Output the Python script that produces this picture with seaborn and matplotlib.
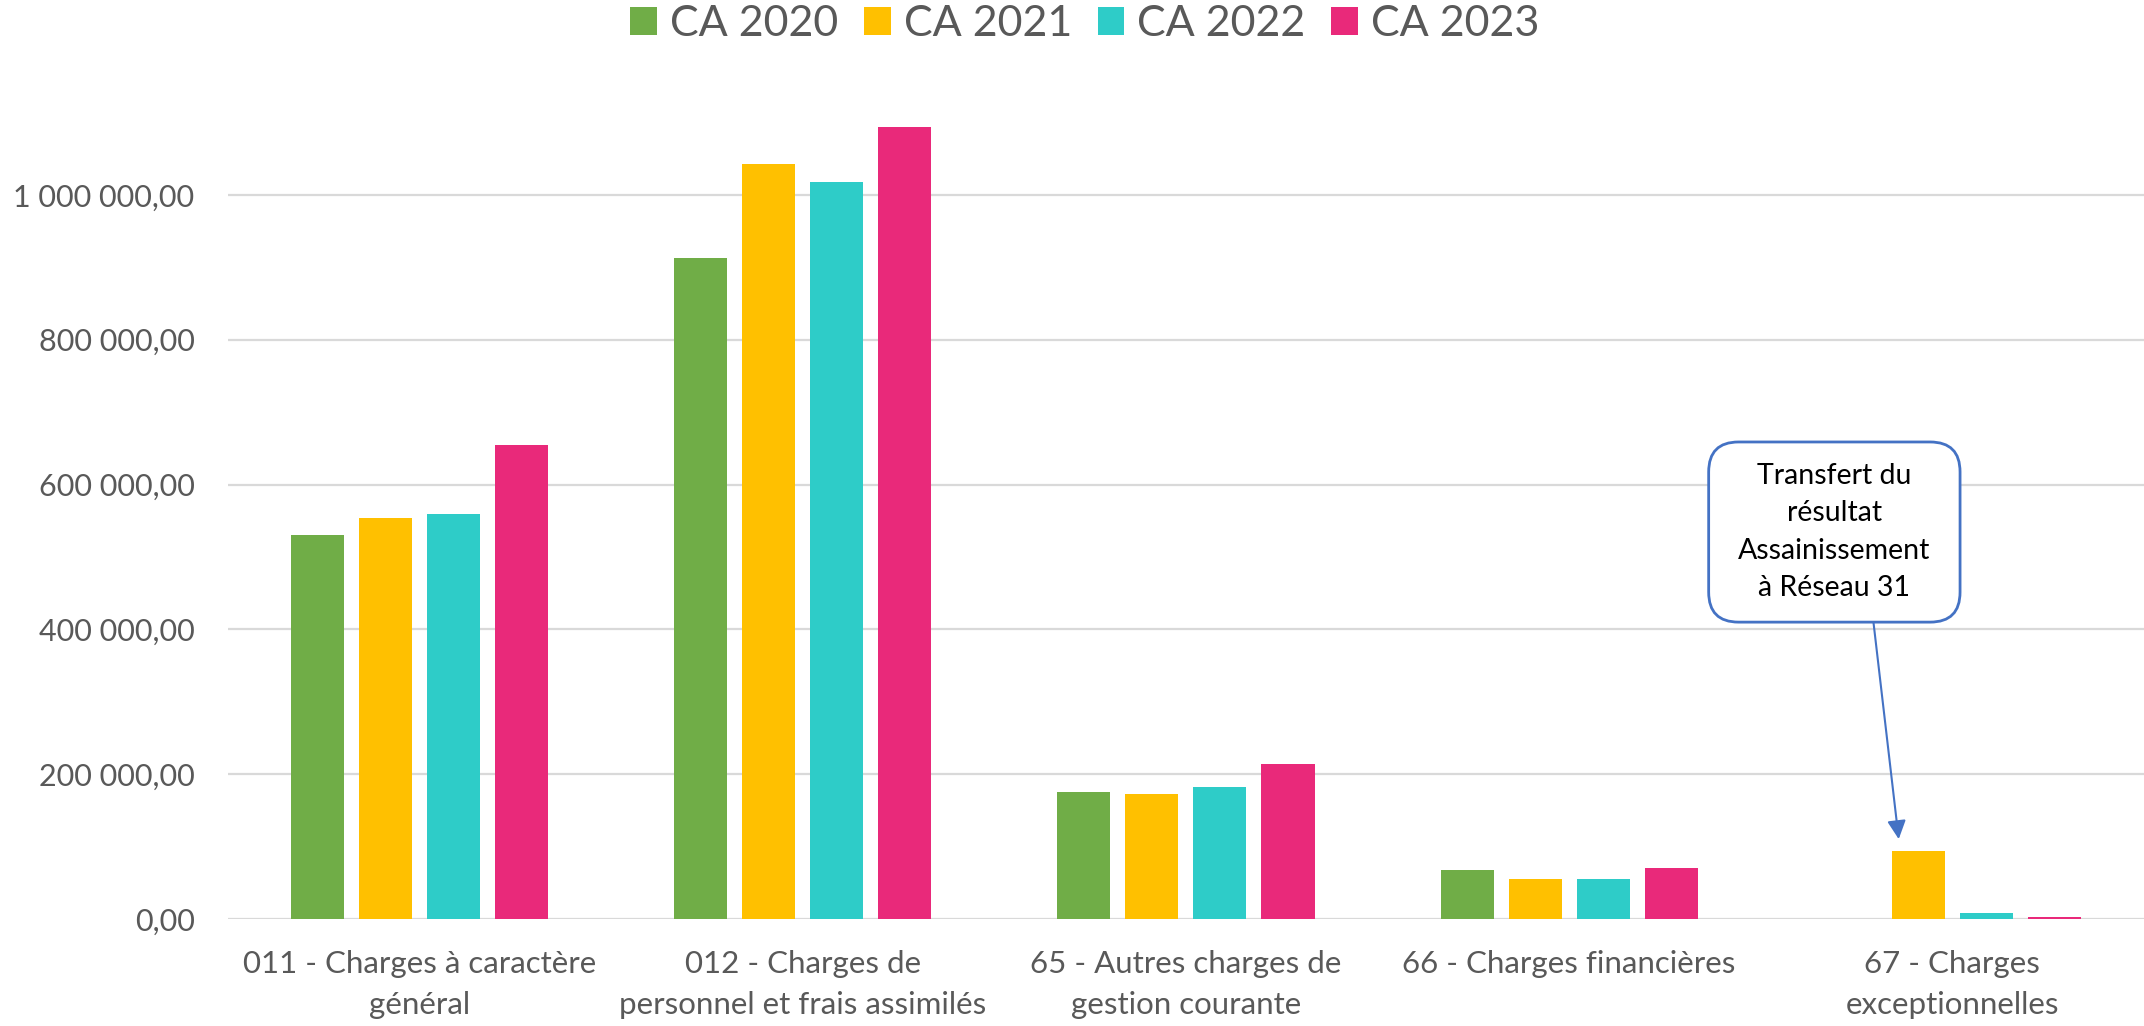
import matplotlib
matplotlib.use("Agg")
import matplotlib.pyplot as plt
import seaborn as sns
import pandas as pd
from matplotlib.patches import FancyBboxPatch
from matplotlib.ticker import FuncFormatter, MultipleLocator

categories = [
    "011 - Charges à caractère\ngénéral",
    "012 - Charges de\npersonnel et frais assimilés",
    "65 - Autres charges de\ngestion courante",
    "66 - Charges financières",
    "67 - Charges\nexceptionnelles",
]
series_names = ["CA 2020", "CA 2021", "CA 2022", "CA 2023"]
ca_2020 = [531000, 913500, 175000, 67700, 0]
ca_2021 = [553600, 1043000, 172600, 55200, 94300]
ca_2022 = [559600, 1018000, 182700, 55200, 8700]
ca_2023 = [654000, 1094000, 214500, 70000, 3200]
colors = ["#70AD47", "#FFC000", "#2ECCC8", "#E9297A"]
annotation_text = "Transfert du\nrésultat\nAssainissement\nà Réseau 31"

rows = []
for name, vals in zip(series_names, [ca_2020, ca_2021, ca_2022, ca_2023]):
    for c, v in zip(categories, vals):
        rows.append({"cat": c, "val": v, "serie": name})
df = pd.DataFrame(rows)

sns.set_theme(style="white")
plt.rcParams["font.family"] = ["Lato", "DejaVu Sans"]

fig = plt.figure(figsize=(21.44, 10.26), dpi=100)
ax = fig.add_axes([0.1063, 0.1043, 0.8937, 0.7904])

sns.barplot(data=df, x="cat", y="val", hue="serie", palette=colors,
            width=0.71, gap=0.22, saturation=1, linewidth=0, ax=ax,
            order=categories, hue_order=series_names)

ax.set_xlim(-0.5, 4.5)
ax.yaxis.set_major_locator(MultipleLocator(200000))
ax.yaxis.set_major_formatter(FuncFormatter(
    lambda v, p: f"{v:,.2f}".replace(",", " ").replace(".", ",")))
ax.set_ylim(0, 1.12e6)
ax.grid(axis="y", color="#D9D9D9", linewidth=1.6)
ax.set_axisbelow(True)
for s in ax.spines.values():
    s.set_visible(False)
ax.set_xlabel("")
ax.set_ylabel("")
ax.tick_params(axis="both", length=0, colors="#595959")
ax.tick_params(axis="y", pad=24, labelsize=22)
ax.tick_params(axis="x", pad=22, labelsize=22.5)
for lbl in ax.get_xticklabels():
    lbl.set_multialignment("center")
    lbl.set_linespacing(1.6)

handles, labels = ax.get_legend_handles_labels()
ax.legend(handles, labels, loc="upper center", bbox_to_anchor=(0.506, 1.012),
          bbox_transform=fig.transFigure, ncol=4, frameon=False,
          fontsize=31, labelcolor="#595959", handlelength=0.62, handleheight=0.62,
          handletextpad=0.3, columnspacing=0.6, borderaxespad=0.0)

# callout box
blue = "#4472C4"
x0, x1 = 3.364, 4.02
y0, y1 = 410000, 658800
rx = 0.078
aspect = (30 / 724 * 1e6) / rx
box = FancyBboxPatch((x0, y0), x1 - x0, y1 - y0,
                     boxstyle=f"round,pad=0,rounding_size={rx}",
                     mutation_aspect=aspect, facecolor="white",
                     edgecolor=blue, linewidth=2, zorder=5, clip_on=False)
ax.add_patch(box)
ax.text((x0 + x1) / 2, (y0 + y1) / 2, annotation_text, ha="center", va="center",
        fontsize=20.5, color="black", linespacing=1.55, zorder=6)
ax.annotate("", xy=(4 - 0.14, ca_2021[4] + 16000), xytext=(3.794, y0),
            arrowprops=dict(arrowstyle="-|>", color=blue, lw=1.5,
                            mutation_scale=28, shrinkA=0, shrinkB=0),
            zorder=6)

fig.savefig("out.png", dpi=100)
